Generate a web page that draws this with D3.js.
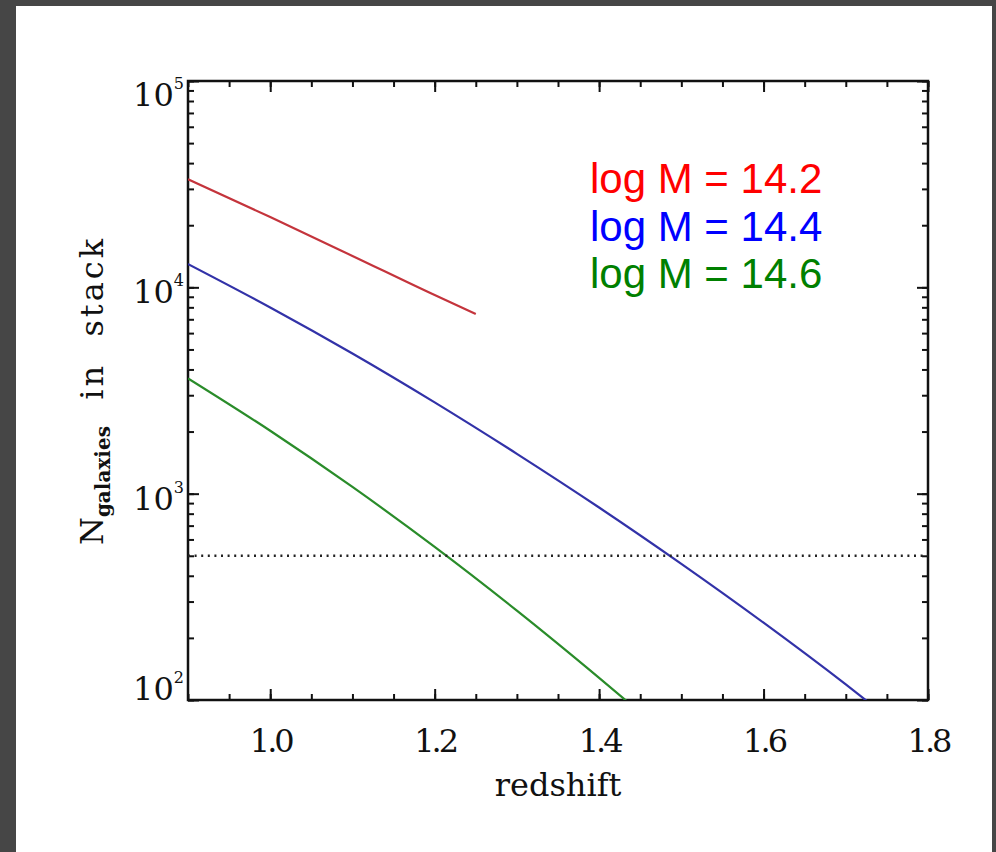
<!DOCTYPE html>
<html>
<head>
<meta charset="utf-8">
<script src="https://cdn.jsdelivr.net/npm/d3@7"></script>
<style>
  html, body { margin: 0; padding: 0; background: #464646; }
  svg { display: block; }
  .tick text { font-family: "DejaVu Serif", serif; fill: #111; }
</style>
</head>
<body>
<svg width="996" height="852"></svg>
<script>
const zRed = [0.9, 1.0, 1.1, 1.2, 1.25];
const nRed = [33400, 21900, 14200, 9170, 7430];
const zBlue = [0.9, 1.0, 1.1, 1.2, 1.3, 1.4, 1.5, 1.6, 1.7, 1.75];
const nBlue = [12970, 7990, 4780, 2770, 1560, 857, 457, 237, 119, 83];
const zGreen = [0.9, 1.0, 1.1, 1.2, 1.3, 1.4, 1.45];
const nGreen = [3620, 2018, 1078, 552, 271, 128, 87];
const threshold = 500;

const xMajor = [1.0, 1.2, 1.4, 1.6, 1.8];
const yMajor = [1e2, 1e3, 1e4, 1e5];
const labels = ["log M = 14.2", "log M = 14.4", "log M = 14.6"];
const labelColors = ["#ff0000", "#0000ff", "#008000"];
const lineColors = ["#c4343c", "#3232a8", "#2a8c2a"];

const svg = d3.select("svg");
const W = 996, H = 852;
const box = {left: 188, top: 81, right: 928, bottom: 700};

// grey frame + white page
svg.append("rect").attr("width", W).attr("height", H).attr("fill", "#464646");
svg.append("rect").attr("x", 16).attr("y", 6).attr("width", 976).attr("height", H - 6).attr("fill", "#fff");

const x = d3.scaleLinear().domain([0.9, 1.8]).range([box.left, box.right]);
const y = d3.scaleLog().domain([100, 1e5]).range([box.bottom, box.top]);

const xMinor = d3.range(0.9, 1.8001, 0.05).map(d => +d.toFixed(2));
const yMinor = y.ticks();

const axisStyle = g => {
  g.select(".domain").remove();
  g.selectAll(".tick line").attr("stroke", "#111").attr("stroke-width", 2);
};

// bottom
svg.append("g").attr("transform", `translate(0,${box.bottom})`)
  .call(d3.axisBottom(x).tickValues(xMinor).tickSize(-6).tickFormat(""))
  .call(axisStyle);
svg.append("g").attr("transform", `translate(0,${box.bottom})`)
  .call(d3.axisBottom(x).tickValues(xMajor).tickSize(-11).tickPadding(29).tickFormat(d3.format(".1f")))
  .call(axisStyle)
  .call(g => g.selectAll(".tick text").attr("font-size", 32).attr("letter-spacing", "-3px"));
// top
svg.append("g").attr("transform", `translate(0,${box.top})`)
  .call(d3.axisTop(x).tickValues(xMinor).tickSize(-6).tickFormat(""))
  .call(axisStyle);
svg.append("g").attr("transform", `translate(0,${box.top})`)
  .call(d3.axisTop(x).tickValues(xMajor).tickSize(-11).tickFormat(""))
  .call(axisStyle);
// left
svg.append("g").attr("transform", `translate(${box.left},0)`)
  .call(d3.axisLeft(y).tickValues(yMinor).tickSize(-6).tickFormat(""))
  .call(axisStyle);
svg.append("g").attr("transform", `translate(${box.left},0)`)
  .call(d3.axisLeft(y).tickValues(yMajor).tickSize(-11).tickFormat(""))
  .call(axisStyle);
// right
svg.append("g").attr("transform", `translate(${box.right},0)`)
  .call(d3.axisRight(y).tickValues(yMinor).tickSize(-6).tickFormat(""))
  .call(axisStyle);
svg.append("g").attr("transform", `translate(${box.right},0)`)
  .call(d3.axisRight(y).tickValues(yMajor).tickSize(-11).tickFormat(""))
  .call(axisStyle);

// y labels 10^n, kept inside the box vertically like IDL does
const ylab = svg.append("g").attr("font-family", "DejaVu Serif, serif").attr("fill", "#111");
yMajor.forEach(v => {
  let cy = Math.min(Math.max(y(v) + 5, box.top + 14), box.bottom - 11);
  const t = ylab.append("text").attr("x", box.left - 4).attr("y", cy + 11)
    .attr("text-anchor", "end").attr("font-size", 32);
  t.append("tspan").text("10");
  t.append("tspan").attr("font-size", 16).attr("dy", -17).text(Math.round(Math.log10(v)));
});

// frame
svg.append("rect")
  .attr("x", box.left).attr("y", box.top)
  .attr("width", box.right - box.left).attr("height", box.bottom - box.top)
  .attr("fill", "none").attr("stroke", "#111").attr("stroke-width", 2.5);

// curves
svg.append("clipPath").attr("id", "clip").append("rect")
  .attr("x", box.left).attr("y", box.top)
  .attr("width", box.right - box.left).attr("height", box.bottom - box.top);

const line = d3.line().x(d => x(d[0])).y(d => y(d[1])).curve(d3.curveMonotoneX);
const series = [
  d3.zip(zRed, nRed),
  d3.zip(zBlue, nBlue),
  d3.zip(zGreen, nGreen)
];
svg.append("g").attr("clip-path", "url(#clip)")
  .selectAll("path").data(series).join("path")
  .attr("d", line)
  .attr("fill", "none")
  .attr("stroke", (d, i) => lineColors[i])
  .attr("stroke-width", 2.2);

// dotted threshold
svg.append("line")
  .attr("x1", box.left).attr("x2", box.right)
  .attr("y1", y(threshold)).attr("y2", y(threshold))
  .attr("stroke", "#222").attr("stroke-width", 2.4)
  .attr("stroke-dasharray", "2 4.6");

// legend text
svg.append("g").selectAll("text").data(labels).join("text")
  .attr("x", 590).attr("y", (d, i) => 193 + i * 47.5)
  .attr("font-family", "Liberation Sans, Arial, sans-serif")
  .attr("font-size", 42)
  .attr("fill", (d, i) => labelColors[i])
  .text(d => d);

// axis titles
svg.append("text")
  .attr("x", (box.left + box.right) / 2).attr("y", 796)
  .attr("text-anchor", "middle")
  .attr("font-family", "DejaVu Serif, serif").attr("font-size", 32).attr("fill", "#111")
  .text("redshift");

const yt = svg.append("text")
  .attr("transform", `translate(103,${(box.top + box.bottom) / 2}) rotate(-90)`)
  .attr("text-anchor", "middle")
  .attr("font-family", "DejaVu Serif, serif").attr("font-size", 32).attr("fill", "#111")
  .style("white-space", "pre");
yt.append("tspan").text("N");
yt.append("tspan").attr("font-size", 20).attr("font-weight", "bold").attr("dy", 7).text("galaxies");
yt.append("tspan").attr("dy", -7).attr("letter-spacing", "3px").text("  in  stack");
</script>
</body>
</html>
